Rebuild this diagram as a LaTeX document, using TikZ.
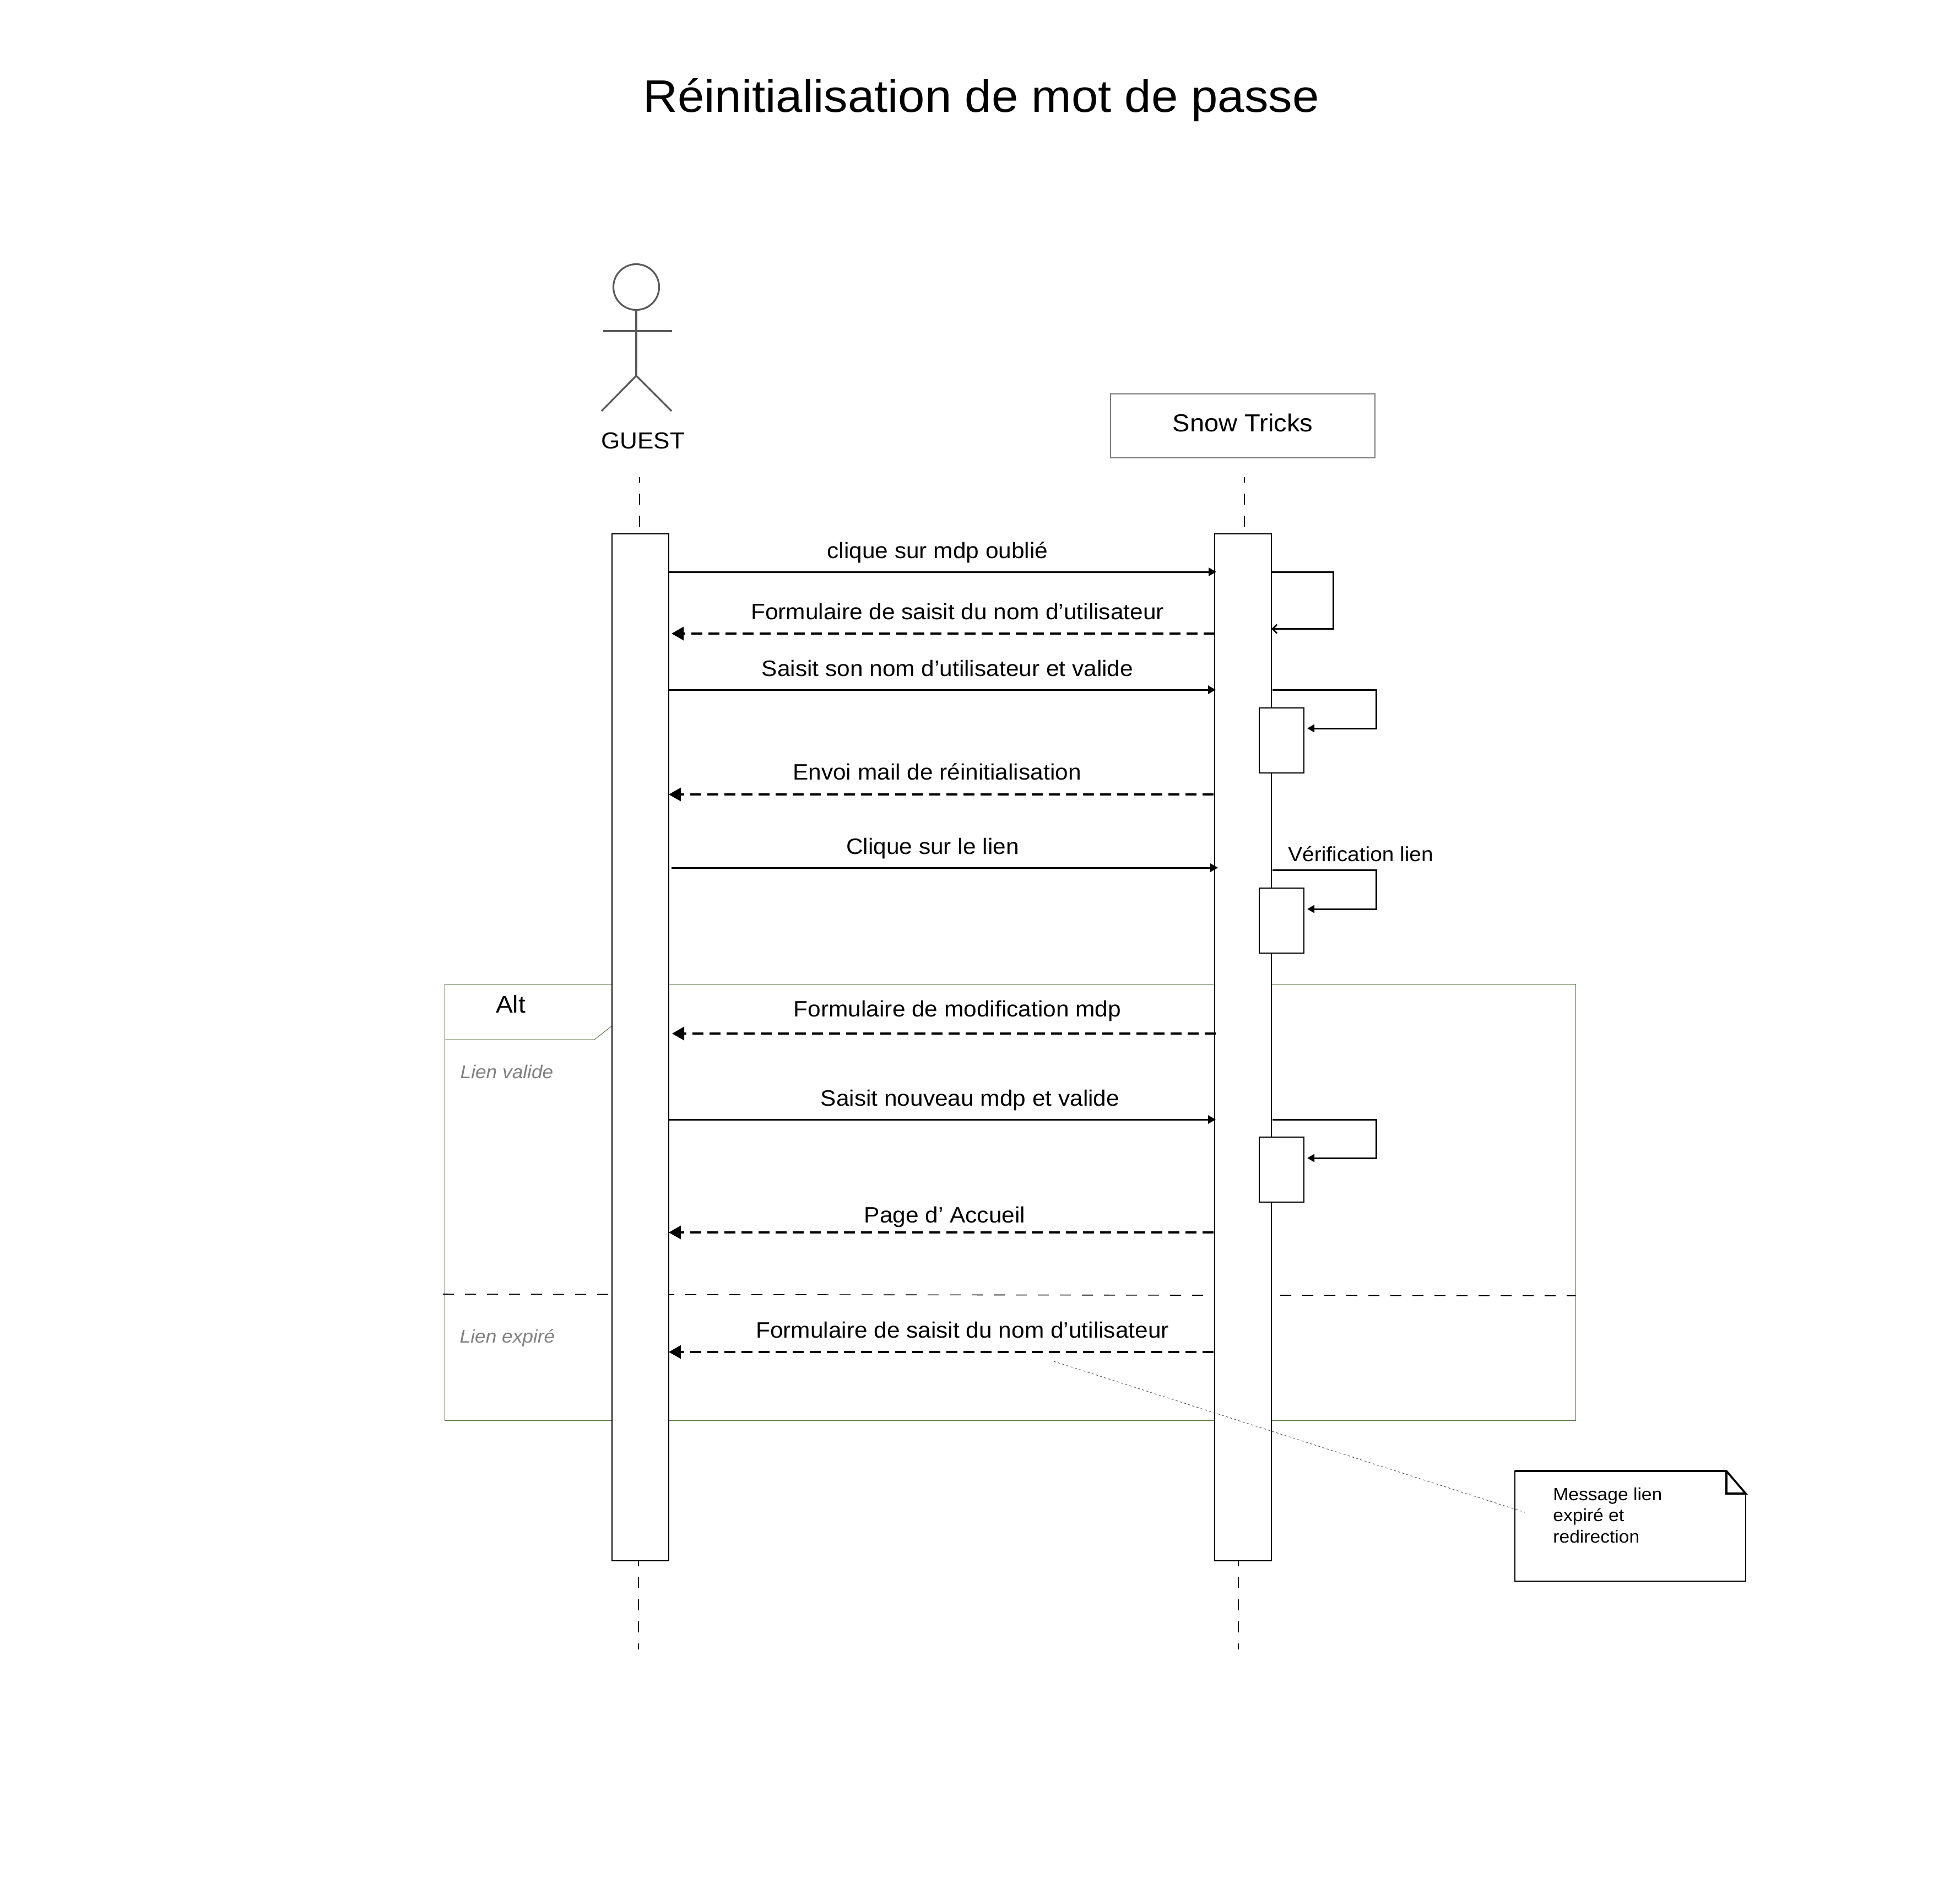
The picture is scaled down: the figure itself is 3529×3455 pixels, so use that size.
\documentclass[tikz,border=0pt]{standalone}
\usepackage{fontspec}
\setmainfont{Liberation Sans}[FakeStretch=1.05]
\usetikzlibrary{arrows.meta}
\definecolor{framegreen}{HTML}{55753F}
\definecolor{actorgrey}{HTML}{5A5A5A}
\definecolor{boxgrey}{HTML}{7A7A7A}
\tikzset{
  bar/.style={draw=black,fill=white,line width=1.2pt,inner sep=0pt,outer sep=0pt,anchor=north west,minimum width=51.5pt,minimum height=932pt},
  minibar/.style={draw=black,fill=white,line width=0.8pt,inner sep=0pt,outer sep=0pt,anchor=north west,minimum width=40.5pt,minimum height=59pt},
  msgsolid/.style={draw=black,line width=1.5pt,-{Triangle[length=7pt,width=7.5pt]}},
  msgreturn/.style={draw=black,line width=2pt,dash pattern=on 10pt off 5.5pt,-{Triangle[length=11pt,width=12pt]}},
  selfmsg/.style={draw=black,line width=1.5pt,-{Triangle[length=6.5pt,width=7pt]}},
  selfopen/.style={draw=black,line width=1.5pt,-{Straight Barb[length=4pt,width=8pt]}},
  lifeline/.style={draw=black,line width=0.8pt,dash pattern=on 10pt off 10pt,dash phase=5pt},
  altline/.style={draw=framegreen,line width=0.5pt},
  lbl/.style={anchor=base,inner sep=0pt,font=\fontsize{20.2}{24}\selectfont},
  guard/.style={anchor=base,inner sep=0pt,text=black!50,font=\fontsize{16.8}{20}\selectfont\itshape},
}
\begin{document}
\begin{tikzpicture}[x=0.5pt,y=-0.5pt]
\useasboundingbox[fill=white] (0,0) rectangle (3529,3455);

\node[lbl,font=\fontsize{41.4}{48}\selectfont] (title) at (1781,203) {Réinitialisation de mot de passe};

% actor
\node[draw=actorgrey,line width=1.6pt,circle,inner sep=0pt,outer sep=0pt,minimum size=41.5pt] (head) at (1155,521) {};
\coordinate (crotch) at (1155,682);
\coordinate (arml) at (1095,601);
\coordinate (armr) at (1220,601);
\coordinate (legl) at (1092,746);
\coordinate (legr) at (1219,746);
\draw[actorgrey,line width=1.6pt] (head.south) -- (crotch);
\draw[actorgrey,line width=1.6pt] (arml) -- (armr);
\draw[actorgrey,line width=1.6pt] (legl) -- (crotch) -- (legr);
\node[lbl,font=\fontsize{21}{24}\selectfont] (guest) at (1167,814) {GUEST};

% system box
\node[draw=boxgrey,line width=0.8pt,inner sep=0pt,outer sep=0pt,minimum width=240pt,minimum height=58pt,anchor=north west] (snowbox) at (2016,715) {};
\node[lbl,font=\fontsize{22.4}{26}\selectfont] (snowtext) at (2256,783) {Snow Tricks};

% alt frame
\node[draw=framegreen,line width=0.5pt,inner sep=0pt,outer sep=0pt,minimum width=1026.5pt,minimum height=396pt,anchor=north west] (altframe) at (807.5,1786) {};
\coordinate (tabl) at (807.5,1887);
\coordinate (tabm) at (1079,1887);
\coordinate (tabr) at (1111,1862);
\draw[altline] (tabl) -- (tabm) -- (tabr);
\node[anchor=base,inner sep=0pt,font=\fontsize{22}{26}\selectfont] (alttext) at (927,1838) {Alt};
\node[guard] (guard1) at (920,1957) {Lien valide};
\node[guard] (guard2) at (921,2437) {Lien expiré};
\coordinate (sepl) at (804,2349);
\coordinate (sepr) at (2860,2352);
\draw[black,line width=0.8pt,dash pattern=on 10pt off 10pt] (sepl) -- (sepr);

% lifelines
\coordinate (gtop) at (1161,866);
\coordinate (atop) at (2259,866);
\coordinate (gbot) at (1159,2994);
\coordinate (abot) at (2248,2994);

% activations
\node[bar] (guestbar) at (1111,969) {};
\node[bar] (appbar) at (2205,969) {};
\draw[lifeline] (gtop) -- (gtop |- guestbar.north);
\draw[lifeline] (atop) -- (atop |- appbar.north);
\draw[lifeline] (gbot |- guestbar.south) -- (gbot);
\draw[lifeline] (abot |- appbar.south) -- (abot);
\node[minibar] (sb1) at (2286,1285) {};
\node[minibar] (sb2) at (2286,1612) {};
\node[minibar] (sb3) at (2286,2064) {};

% messages
\draw[msgsolid] (guestbar.east |- 0,1038) -- ([xshift=1.5pt]appbar.west |- 0,1038);
\node[lbl] (m1) at (1702,1013) {clique sur mdp oublié};
\draw[msgreturn] (appbar.west |- 0,1150) -- ([xshift=2.5pt]guestbar.east |- 0,1150);
\node[lbl] (m2) at (1738,1124) {Formulaire de saisit du nom d’utilisateur};
\draw[msgsolid] (guestbar.east |- 0,1252) -- ([xshift=1pt]appbar.west |- 0,1252);
\node[lbl] (m3) at (1720,1227) {Saisit son nom d’utilisateur et valide};
\draw[msgreturn] ([xshift=-1pt]appbar.west |- 0,1442) -- (guestbar.east |- 0,1442);
\node[lbl] (m4) at (1701,1415) {Envoi mail de réinitialisation};
\draw[msgsolid] ([xshift=2.5pt]guestbar.east |- 0,1575) -- ([xshift=3pt]appbar.west |- 0,1575);
\node[lbl] (m5) at (1693,1550) {Clique sur le lien};
\draw[msgreturn] ([xshift=1pt]appbar.west |- 0,1876) -- ([xshift=3pt]guestbar.east |- 0,1876);
\node[lbl] (m6) at (1738,1845) {Formulaire de modification mdp};
\draw[msgsolid] (guestbar.east |- 0,2032) -- ([xshift=1pt]appbar.west |- 0,2032);
\node[lbl] (m7) at (1761,2007) {Saisit nouveau mdp et valide};
\draw[msgreturn] ([xshift=-1pt]appbar.west |- 0,2237) -- (guestbar.east |- 0,2237);
\node[lbl] (m8) at (1715,2219) {Page d’ Accueil};
\draw[msgreturn] ([xshift=-1pt]appbar.west |- 0,2454) -- (guestbar.east |- 0,2454);
\node[lbl] (m9) at (1747,2428) {Formulaire de saisit du nom d’utilisateur};

% self messages
\draw[selfopen] (appbar.east |- 0,1038) -- (2420,1038) -- (2420,1141.5) -- (appbar.east |- 0,1141.5);
\draw[selfmsg] ([xshift=1pt]appbar.east |- 0,1252) -- (2498,1252) -- (2498,1322) -- ([xshift=3pt]sb1.east |- 0,1322);
\draw[selfmsg] ([xshift=1pt]appbar.east |- 0,1579) -- (2498,1579) -- (2498,1650) -- ([xshift=3pt]sb2.east |- 0,1650);
\draw[selfmsg] ([xshift=1pt]appbar.east |- 0,2032) -- (2498,2032) -- (2498,2102) -- ([xshift=3pt]sb3.east |- 0,2102);
\node[anchor=base,inner sep=0pt,font=\fontsize{18.5}{22}\selectfont] (verif) at (2470,1563) {Vérification lien};

% note
\node[draw=black,line width=0.8pt,inner sep=0pt,outer sep=0pt,minimum width=209.5pt,minimum height=100pt,anchor=north west] (note) at (2750,2670) {};
\coordinate (foldtop) at (3134,2670);
\coordinate (foldin) at (3134,2711);
\coordinate (foldout) at (3169,2711);
\coordinate (noteTL) at (2750,2670);
\draw[white,fill=white,line width=2pt] (foldtop) -- (foldout) -- (foldout |- foldtop) -- cycle;
\draw[black,line width=1.8pt] (noteTL) -- (foldtop) -- (foldout) -- (foldin) -- (foldtop);
\node[anchor=base west,inner sep=0pt,align=left,font=\fontsize{16}{19.2}\selectfont] (notetext) at (2819,2800) {Message lien\\expiré et\\redirection};
\coordinate (dots) at (1913,2471);
\coordinate (dote) at (2768,2745);
\draw[black!70,line width=0.45pt,dash pattern=on 2pt off 2pt] (dots) -- (dote);
\end{tikzpicture}
\end{document}
